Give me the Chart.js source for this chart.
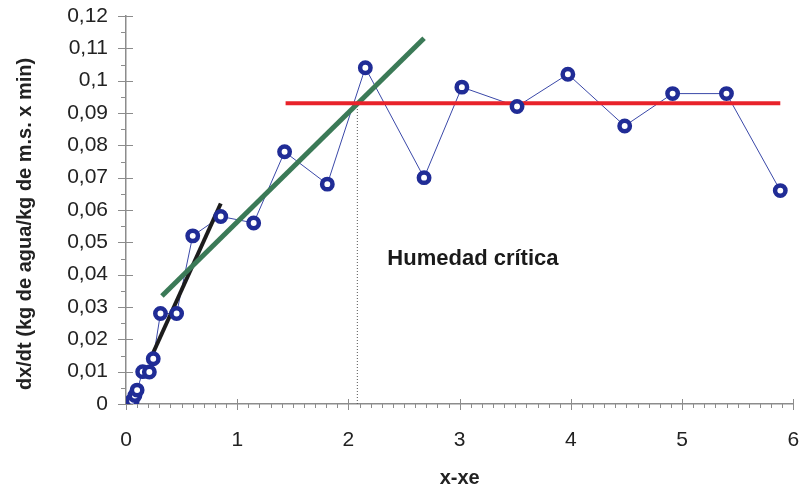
<!DOCTYPE html>
<html>
<head>
<meta charset="utf-8">
<script src="https://cdn.jsdelivr.net/npm/chart.js@4.4.1/dist/chart.umd.min.js"></script>
<style>
  html, body { margin: 0; padding: 0; background: #ffffff; }
  #c { display: block; }
</style>
</head>
<body>
<canvas id="c" width="803" height="488"></canvas>
<script>
// ---- data ----
const xData = [0.055, 0.08, 0.10, 0.15, 0.21, 0.245, 0.31, 0.455, 0.60, 0.852, 1.148, 1.426, 1.81, 2.152, 2.68, 3.02, 3.516, 3.973, 4.484, 4.915, 5.399, 5.883];
const yData = [0.001, 0.0026, 0.0043, 0.010, 0.0099, 0.014, 0.028, 0.028, 0.052, 0.058, 0.056, 0.078, 0.068, 0.104, 0.070, 0.098, 0.092, 0.102, 0.086, 0.096, 0.096, 0.066];

const greenX = [0.323, 2.68];
const greenY = [0.0334, 0.1131];
const blackX = [0.233, 0.852];
const blackY = [0.015, 0.062];
const redX = [1.435, 5.883];
const redY = [0.093, 0.093];
const criticalX = [2.08, 2.08];
const criticalY = [0, 0.093];

const xTickLabels = ['0', '1', '2', '3', '4', '5', '6'];
const yTickLabels = ['0', '0,01', '0,02', '0,03', '0,04', '0,05', '0,06', '0,07', '0,08', '0,09', '0,1', '0,11', '0,12'];

const xTitle = 'x-xe';
const yTitle = 'dx/dt (kg de agua/kg de m.s. x min)';
const annotText = 'Humedad crítica';
const annotX = 2.35;
const annotY = 0.0448;

// ---- helpers ----
const pts = (xs, ys) => xs.map((v, i) => ({ x: v, y: ys[i] }));
const axisColor = '#8c8c8c';
const textColor = '#222222';
const FONT = "'Liberation Sans', Arial, sans-serif";

const tickPlugin = {
  id: 'customTicks',
  beforeDatasetsDraw(chart) {
    const { ctx, scales: { x, y } } = chart;
    ctx.save();
    ctx.strokeStyle = axisColor;
    ctx.lineWidth = 1;
    // x axis ticks: major every 1, minor every 0.1
    for (let i = 0; i <= 60; i++) {
      const px = Math.round(x.getPixelForValue(i / 10)) + 0.5;
      const major = i % 10 === 0;
      ctx.beginPath();
      ctx.moveTo(px, major ? y.bottom - 5 : y.bottom);
      ctx.lineTo(px, major ? y.bottom + 6 : y.bottom + 4);
      ctx.stroke();
    }
    // y axis ticks: major every 0.01, minor every 0.005
    for (let i = 0; i <= 24; i++) {
      const py = Math.round(y.getPixelForValue(i * 0.005)) + 0.5;
      const major = i % 2 === 0;
      ctx.beginPath();
      ctx.moveTo(major ? x.left - 8 : x.left - 5, py);
      ctx.lineTo(major ? x.left + 7 : x.left, py);
      ctx.stroke();
    }
    ctx.restore();
  },
  afterDatasetsDraw(chart) {
    const { ctx, scales: { x, y } } = chart;
    ctx.save();
    ctx.font = 'bold 22px ' + FONT;
    ctx.fillStyle = '#1a1a1a';
    ctx.textAlign = 'left';
    ctx.textBaseline = 'middle';
    ctx.fillText(annotText, x.getPixelForValue(annotX), y.getPixelForValue(annotY));
    ctx.restore();
  }
};

const hiddenGrid = (len) => ({
  display: true,
  color: 'rgba(0,0,0,0)',
  drawOnChartArea: false,
  drawTicks: true,
  tickLength: len,
  tickColor: 'rgba(0,0,0,0)'
});

new Chart(document.getElementById('c'), {
  type: 'scatter',
  data: {
    datasets: [
      {
        label: 'curve',
        data: pts(xData, yData),
        showLine: true,
        borderColor: '#3a48a8',
        borderWidth: 1,
        pointRadius: 0,
        order: 5
      },
      {
        label: 'critical',
        data: pts(criticalX, criticalY),
        showLine: true,
        borderColor: '#555555',
        borderWidth: 1,
        borderDash: [1, 2],
        pointRadius: 0,
        order: 4
      },
      {
        label: 'black',
        data: pts(blackX, blackY),
        showLine: true,
        borderColor: '#1c1c1c',
        borderWidth: 4,
        pointRadius: 0,
        order: 3
      },
      {
        label: 'green',
        data: pts(greenX, greenY),
        showLine: true,
        borderColor: '#3b7a57',
        borderWidth: 5,
        pointRadius: 0,
        order: 2
      },
      {
        label: 'red',
        data: pts(redX, redY),
        showLine: true,
        borderColor: '#e8222a',
        borderWidth: 4,
        pointRadius: 0,
        order: 1
      },
      {
        label: 'points',
        data: pts(xData, yData),
        showLine: false,
        pointRadius: 5.2,
        pointBorderWidth: 4.5,
        pointBorderColor: '#202c96',
        pointBackgroundColor: '#ffffff',
        order: 0
      }
    ]
  },
  options: {
    responsive: false,
    animation: false,
    devicePixelRatio: 1,
    layout: { padding: { left: 0, right: 8, top: 16, bottom: 0 } },
    plugins: {
      legend: { display: false },
      tooltip: { enabled: false }
    },
    scales: {
      x: {
        type: 'linear',
        min: 0,
        max: 6,
        grid: hiddenGrid(24),
        border: { display: true, color: axisColor, width: 1.5 },
        ticks: {
          stepSize: 1,
          padding: 0,
          color: textColor,
          font: { family: FONT, size: 21 },
          callback: (v) => xTickLabels[Math.round(v)] ?? ''
        },
        title: {
          display: true,
          text: xTitle,
          color: textColor,
          font: { family: FONT, size: 20, weight: 'bold', lineHeight: 1 },
          padding: { top: 0, bottom: 0 }
        },
        afterFit(scale) { scale.height = 84; }
      },
      y: {
        type: 'linear',
        min: 0,
        max: 0.12,
        grid: hiddenGrid(18),
        border: { display: true, color: axisColor, width: 1.5 },
        ticks: {
          stepSize: 0.01,
          padding: 0,
          color: textColor,
          font: { family: FONT, size: 21 },
          callback: (v) => yTickLabels[Math.round(v * 100)] ?? ''
        },
        title: {
          display: true,
          text: yTitle + '     ',
          color: textColor,
          font: { family: FONT, size: 20, weight: 'bold', lineHeight: 1 },
          padding: { top: 15, bottom: 0 }
        },
        afterFit(scale) { scale.width = 126; }
      }
    }
  },
  plugins: [tickPlugin]
});
</script>
</body>
</html>
